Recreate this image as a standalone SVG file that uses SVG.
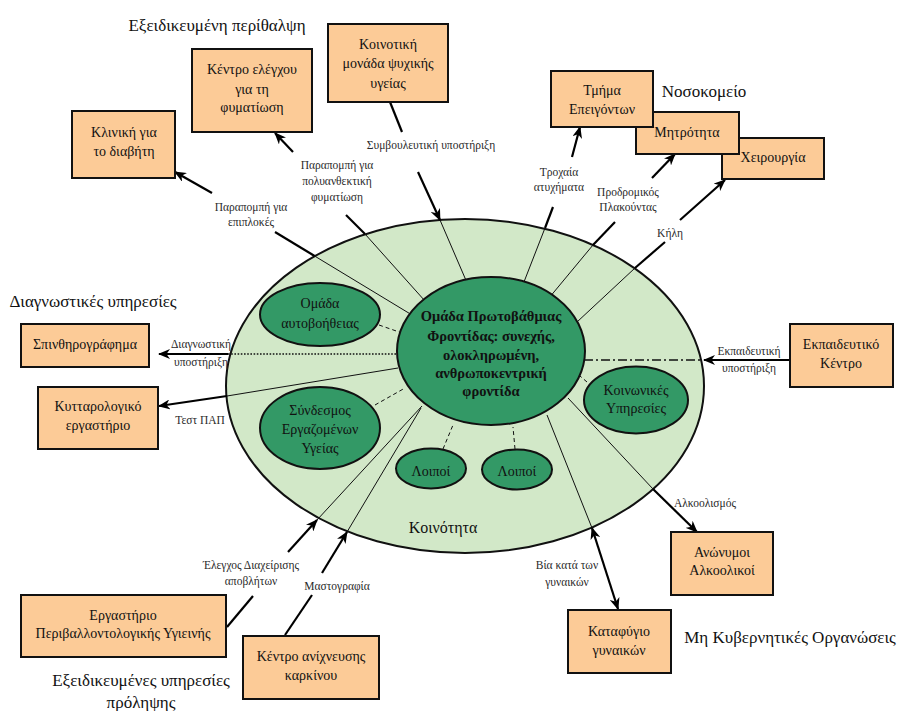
<svg xmlns="http://www.w3.org/2000/svg" width="898" height="711" viewBox="0 0 898 711">
  <style>
    text { font-family: "Liberation Serif", "DejaVu Serif", serif; fill: #111; text-anchor: middle; }
    .head { font-size: 17px; }
    .box-t { font-size: 14px; }
    .lbl { font-size: 11.5px; fill: #2a2a2a; }
    .core-t { font-size: 14.5px; font-weight: bold; }
    .box { fill: #FCCB97; stroke: #111; stroke-width: 2; }
    .sub { fill: #339966; stroke: #111; stroke-width: 2; }
    .thin { stroke: #111; stroke-width: 1; fill: none; }
    .thick { stroke: #000; stroke-width: 2.2; fill: none; }
    .dash { stroke: #111; stroke-width: 1; stroke-dasharray: 4 3; fill: none; }
    .dot { stroke: #111; stroke-width: 1.4; stroke-dasharray: 1.6 1.6; fill: none; }
    .dashdot { stroke: #111; stroke-width: 1.6; stroke-dasharray: 9 3 2 3; fill: none; }
  </style>
  <defs>
    <marker id="arr" viewBox="0 0 12 10" refX="11" refY="5" markerWidth="12" markerHeight="10" markerUnits="userSpaceOnUse" orient="auto-start-reverse">
      <path d="M0,0 L12,5 L0,10 L3.5,5 z" fill="#000"/>
    </marker>
  </defs>

  <rect width="898" height="711" fill="#fff"/>

  <!-- community ring -->
  <g id="community">
    <ellipse cx="465" cy="386" rx="239" ry="167" fill="#D2E8C8" stroke="#111" stroke-width="2"/>
    <text class="head" x="443" y="533" style="font-size:16px">Κοινότητα</text>
  </g>

  <!-- connectors -->
  <g id="connectors">
    <!-- diabetes clinic -->
    <line class="thin" x1="412" y1="315" x2="314.6" y2="256"/>
    <line class="thick" x1="314.6" y1="256" x2="275" y2="232"/>
    <line class="thick" x1="212" y1="193" x2="175" y2="172" marker-end="url(#arr)"/>
    <!-- tuberculosis centre -->
    <line class="thin" x1="425" y1="301" x2="365" y2="234"/>
    <line class="thick" x1="365" y1="234" x2="346" y2="215"/>
    <line class="thick" x1="293" y1="152" x2="275" y2="133" marker-end="url(#arr)"/>
    <!-- mental health unit -->
    <line class="thick" x1="390" y1="102" x2="402" y2="132"/>
    <line class="thick" x1="418" y1="172" x2="440" y2="220" marker-end="url(#arr)"/>
    <line class="thin" x1="440" y1="220" x2="468" y2="285"/>
    <!-- emergency -->
    <line class="thick" x1="572" y1="157" x2="580" y2="127" marker-end="url(#arr)"/>
    <line class="thick" x1="553" y1="207" x2="545" y2="228"/>
    <line class="thin" x1="545" y1="228" x2="522" y2="287"/>
    <!-- maternity -->
    <line class="thick" x1="652" y1="178" x2="675" y2="154" marker-end="url(#arr)"/>
    <line class="thick" x1="615" y1="222" x2="593" y2="245"/>
    <line class="thin" x1="593" y1="245" x2="549" y2="298"/>
    <!-- surgery -->
    <line class="thick" x1="680" y1="220" x2="725" y2="180" marker-end="url(#arr)"/>
    <line class="thick" x1="665" y1="242" x2="635" y2="268"/>
    <line class="thin" x1="635" y1="268" x2="577" y2="322"/>
    <!-- training centre -->
    <line class="thick" x1="790" y1="360" x2="704" y2="360" marker-end="url(#arr)"/>
    <line class="dashdot" x1="584" y1="360" x2="703" y2="360"/>
    <!-- scintigraphy -->
    <line class="thick" x1="228" y1="354" x2="159" y2="354" marker-end="url(#arr)"/>
    <line class="dot" x1="228" y1="354" x2="397" y2="354"/>
    <!-- cytology lab -->
    <line class="thin" x1="398" y1="368" x2="227" y2="396"/>
    <line class="thick" x1="227" y1="396" x2="159" y2="406" marker-end="url(#arr)"/>
    <!-- environmental hygiene lab -->
    <line class="thick" x1="227" y1="627" x2="253" y2="596"/>
    <line class="thick" x1="288" y1="552" x2="317" y2="520" marker-end="url(#arr)"/>
    <line class="thin" x1="317" y1="520" x2="422" y2="406"/>
    <!-- cancer screening -->
    <line class="thick" x1="285" y1="635" x2="312" y2="595"/>
    <line class="thick" x1="322" y1="573" x2="347" y2="532" marker-end="url(#arr)"/>
    <line class="thin" x1="347" y1="532" x2="421" y2="408"/>
    <!-- alcoholics anonymous -->
    <line class="thin" x1="568" y1="398" x2="653" y2="489"/>
    <line class="thick" x1="653" y1="489" x2="697" y2="532" marker-end="url(#arr)"/>
    <!-- women's shelter -->
    <line class="thin" x1="547" y1="415" x2="592" y2="528"/>
    <line class="thick" x1="592" y1="528" x2="618" y2="609" marker-start="url(#arr)" marker-end="url(#arr)"/>
    <!-- links from the inner groups -->
    <line class="dash" x1="379" y1="325" x2="402" y2="333"/>
    <line class="dash" x1="375" y1="405" x2="405" y2="388"/>
    <line class="dash" x1="443" y1="449" x2="453" y2="425"/>
    <line class="dash" x1="515" y1="449" x2="513" y2="427"/>
    <line class="dash" x1="587" y1="382" x2="580" y2="376"/>

    <!-- connector labels -->
    <text class="lbl" x="251" y="211">Παραπομπή για</text>
    <text class="lbl" x="251" y="226">επιπλοκές</text>
    <text class="lbl" x="337" y="169">Παραπομπή για</text>
    <text class="lbl" x="337" y="185">πολυανθεκτική</text>
    <text class="lbl" x="337" y="201">φυματίωση</text>
    <text class="lbl" x="431" y="149">Συμβουλευτική υποστήριξη</text>
    <text class="lbl" x="559" y="176">Τροχαία</text>
    <text class="lbl" x="559" y="191">ατυχήματα</text>
    <text class="lbl" x="628" y="196">Προδρομικός</text>
    <text class="lbl" x="628" y="211">Πλακούντας</text>
    <text class="lbl" x="670" y="237">Κήλη</text>
    <text class="lbl" x="749" y="355">Εκπαιδευτική</text>
    <text class="lbl" x="749" y="372">υποστήριξη</text>
    <text class="lbl" x="201" y="348">Διαγνωστική</text>
    <text class="lbl" x="201" y="366">υποστήριξη</text>
    <text class="lbl" x="200" y="424">Τεστ ΠΑΠ</text>
    <text class="lbl" x="251" y="569">Έλεγχος Διαχείρισης</text>
    <text class="lbl" x="251" y="585">αποβλήτων</text>
    <text class="lbl" x="337" y="590">Μαστογραφία</text>
    <text class="lbl" x="705" y="507">Αλκοολισμός</text>
    <text class="lbl" x="567" y="569">Βία κατά των</text>
    <text class="lbl" x="567" y="586">γυναικών</text>
  </g>

  <!-- primary care team -->
  <g id="primary-care">
    <ellipse cx="491" cy="351" rx="94" ry="74" class="sub"/>
    <text class="core-t" x="491" y="321">Ομάδα Πρωτοβάθμιας</text>
    <text class="core-t" x="491" y="341">Φροντίδας: συνεχής,</text>
    <text class="core-t" x="491" y="360">ολοκληρωμένη,</text>
    <text class="core-t" x="491" y="378">ανθρωποκεντρική</text>
    <text class="core-t" x="491" y="396">φροντίδα</text>
  </g>

  <g id="self-help">
    <ellipse cx="320" cy="314.5" rx="60" ry="31.5" class="sub"/>
    <text class="box-t" x="320" y="308">Ομάδα</text>
    <text class="box-t" x="320" y="328">αυτοβοήθειας</text>
  </g>
  <g id="health-workers">
    <ellipse cx="320" cy="428" rx="60" ry="41" class="sub"/>
    <text class="box-t" x="320" y="415">Σύνδεσμος</text>
    <text class="box-t" x="320" y="434">Εργαζομένων</text>
    <text class="box-t" x="320" y="453">Υγείας</text>
  </g>
  <g id="others-1">
    <ellipse cx="431" cy="468.5" rx="35" ry="20" class="sub"/>
    <text class="box-t" x="431" y="476">Λοιποί</text>
  </g>
  <g id="others-2">
    <ellipse cx="517" cy="469.5" rx="35" ry="20" class="sub"/>
    <text class="box-t" x="517" y="476">Λοιποί</text>
  </g>
  <g id="social-services">
    <ellipse cx="636" cy="400" rx="52" ry="33.5" class="sub"/>
    <text class="box-t" x="636" y="395">Κοινωνικές</text>
    <text class="box-t" x="636" y="413">Υπηρεσίες</text>
  </g>

  <!-- specialised care -->
  <g id="specialised-care-title">
    <text class="head" x="217" y="31">Εξειδικευμένη περίθαλψη</text>
  </g>
  <g id="diabetes-clinic">
    <rect x="72" y="111" width="103" height="67" class="box"/>
    <text class="box-t" x="124" y="137">Κλινική για</text>
    <text class="box-t" x="124" y="156">το διαβήτη</text>
  </g>
  <g id="tb-centre">
    <rect x="192" y="49" width="120" height="83" class="box"/>
    <text class="box-t" x="252" y="74">Κέντρο ελέγχου</text>
    <text class="box-t" x="252" y="94">για τη</text>
    <text class="box-t" x="252" y="112">φυματίωση</text>
  </g>
  <g id="mental-health">
    <rect x="328" y="24" width="120" height="78" class="box"/>
    <text class="box-t" x="388" y="49">Κοινοτική</text>
    <text class="box-t" x="388" y="68">μονάδα ψυχικής</text>
    <text class="box-t" x="388" y="88">υγείας</text>
  </g>

  <!-- hospital -->
  <g id="hospital-title">
    <text class="head" x="704" y="97">Νοσοκομείο</text>
  </g>
  <g id="surgery">
    <rect x="722" y="138" width="102" height="41" class="box"/>
    <text class="box-t" x="773" y="162">Χειρουργία</text>
  </g>
  <g id="maternity">
    <rect x="636" y="112" width="103" height="42" class="box"/>
    <text class="box-t" x="687" y="137">Μητρότητα</text>
  </g>
  <g id="emergency">
    <rect x="551" y="71" width="102" height="56" class="box"/>
    <text class="box-t" x="602" y="95">Τμήμα</text>
    <text class="box-t" x="602" y="114">Επειγόντων</text>
  </g>

  <g id="training-centre">
    <rect x="790" y="324" width="103" height="63" class="box"/>
    <text class="box-t" x="841" y="349">Εκπαιδευτικό</text>
    <text class="box-t" x="841" y="368">Κέντρο</text>
  </g>

  <!-- diagnostic services -->
  <g id="diagnostics-title">
    <text class="head" x="93" y="307">Διαγνωστικές υπηρεσίες</text>
  </g>
  <g id="scintigraphy">
    <rect x="21" y="324" width="128" height="43" class="box"/>
    <text class="box-t" x="85" y="349">Σπινθηρογράφημα</text>
  </g>
  <g id="cytology-lab">
    <rect x="38" y="387" width="120" height="62" class="box"/>
    <text class="box-t" x="98" y="411">Κυτταρολογικό</text>
    <text class="box-t" x="98" y="430">εργαστήριο</text>
  </g>

  <!-- prevention services -->
  <g id="environment-lab">
    <rect x="21" y="595" width="205" height="62" class="box"/>
    <text class="box-t" x="123" y="620">Εργαστήριο</text>
    <text class="box-t" x="123" y="638">Περιβαλλοντολογικής Υγιεινής</text>
  </g>
  <g id="cancer-screening">
    <rect x="243" y="636" width="136" height="63" class="box"/>
    <text class="box-t" x="311" y="661">Κέντρο ανίχνευσης</text>
    <text class="box-t" x="311" y="680">καρκίνου</text>
  </g>
  <g id="prevention-title">
    <text class="head" x="141" y="686">Εξειδικευμένες υπηρεσίες</text>
    <text class="head" x="141" y="708">πρόληψης</text>
  </g>

  <!-- NGOs -->
  <g id="alcoholics-anonymous">
    <rect x="671" y="532" width="102" height="63" class="box"/>
    <text class="box-t" x="722" y="557">Ανώνυμοι</text>
    <text class="box-t" x="722" y="575">Αλκοολικοί</text>
  </g>
  <g id="womens-shelter">
    <rect x="568" y="610" width="103" height="63" class="box"/>
    <text class="box-t" x="619" y="636">Καταφύγιο</text>
    <text class="box-t" x="619" y="655">γυναικών</text>
  </g>
  <g id="ngo-title">
    <text class="head" x="790" y="643">Μη Κυβερνητικές Οργανώσεις</text>
  </g>
</svg>
